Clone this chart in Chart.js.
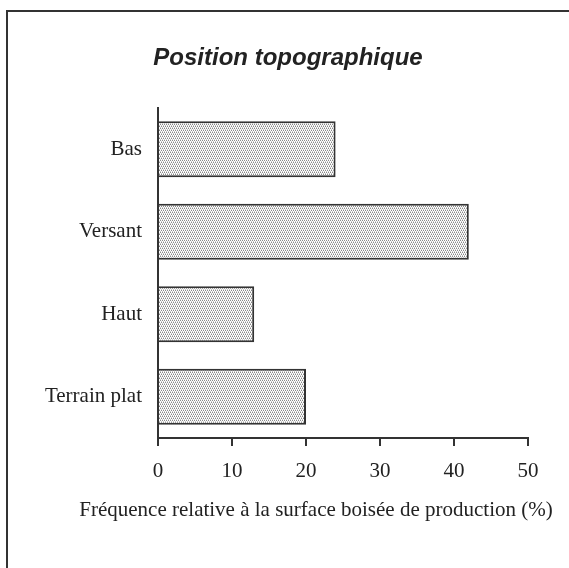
<!DOCTYPE html>
<html>
<head>
<meta charset="utf-8">
<script src="https://cdn.jsdelivr.net/npm/chart.js@4.4.1/dist/chart.umd.min.js"></script>
<style>
  html, body { margin: 0; padding: 0; background: #fff; }
  #wrap { width: 569px; height: 568px; }
</style>
</head>
<body>
<div id="wrap"><canvas id="chart" width="569" height="568"></canvas></div>
<script>
// data
const categories = ['Bas', 'Versant', 'Haut', 'Terrain plat'];
const frequencies = [24, 42, 13, 20];
const xTicks = [0, 10, 20, 30, 40, 50];
const titleText = 'Position topographique';
const xAxisTitle = 'Fréquence relative à la surface boisée de production (%)';

const ink = '#333333';
const serif = '"Liberation Serif", "Times New Roman", serif';

// fine grey dot pattern for the bars
function dotPattern() {
    const c = document.createElement('canvas');
    c.width = 4; c.height = 4;
    const g = c.getContext('2d');
    g.fillStyle = '#ffffff';
    g.fillRect(0, 0, 4, 4);
    g.fillStyle = '#8a8a8a';
    [[0, 0], [2, 0], [1, 2], [3, 2]].forEach(([x, y]) => g.fillRect(x, y, 1, 1));
    g.fillStyle = '#c8c8c8';
    [[1, 1], [3, 1], [0, 3], [2, 3]].forEach(([x, y]) => g.fillRect(x, y, 1, 1));
    return g.createPattern(c, 'repeat');
}

// frame, title and x axis title drawn by hand
const decorations = {
    id: 'decorations',
    afterDraw(chart) {
        const ctx = chart.ctx;
        ctx.save();
        ctx.strokeStyle = ink;
        ctx.lineWidth = 2;
        ctx.strokeRect(7, 11, 600, 600);

        ctx.fillStyle = '#222';
        ctx.textAlign = 'center';
        ctx.textBaseline = 'alphabetic';
        ctx.font = 'italic bold 24px "Liberation Sans", Arial, sans-serif';
        ctx.fillText(titleText, 288, 65);

        ctx.font = '21px ' + serif;
        ctx.fillText(xAxisTitle, 316, 516);
        ctx.restore();
    }
};

const chart = new Chart(document.getElementById('chart'), {
    type: 'bar',
    data: {
        labels: categories,
        datasets: [{
            data: frequencies,
            backgroundColor: dotPattern(),
            borderColor: ink,
            borderWidth: 2,
            borderSkipped: 'start',
            categoryPercentage: 1,
            barPercentage: 0.68
        }]
    },
    options: {
        indexAxis: 'y',
        responsive: false,
        animation: false,
        devicePixelRatio: 1,
        layout: { padding: { left: 0, right: 41, top: 108, bottom: 0 } },
        plugins: { legend: { display: false }, tooltip: { enabled: false } },
        scales: {
            x: {
                min: 0,
                max: 50,
                afterBuildTicks: (s) => { s.ticks = xTicks.map(v => ({ value: v })); },
                afterFit: (s) => { s.height = 130; },
                grid: { drawOnChartArea: false, drawTicks: true, tickLength: 8, color: ink, lineWidth: 2 },
                border: { display: true, color: ink, width: 2 },
                ticks: {
                    color: '#222',
                    padding: 13,
                    font: { family: serif, size: 21 }
                }
            },
            y: {
                afterFit: (s) => { s.width = 158; },
                grid: { display: false, drawTicks: false },
                border: { display: true, color: ink, width: 2 },
                ticks: {
                    color: '#222',
                    padding: 16,
                    font: { family: serif, size: 21 }
                }
            }
        }
    },
    plugins: [decorations]
});
</script>
</body>
</html>
